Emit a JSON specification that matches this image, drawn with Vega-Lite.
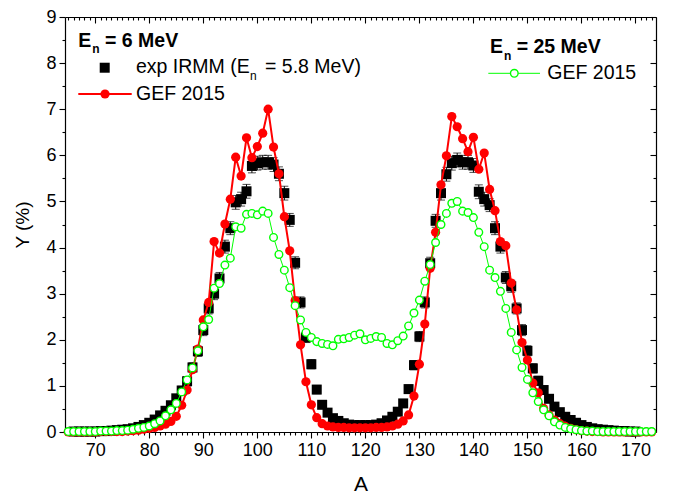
{
"$schema":"https://vega.github.io/schema/vega-lite/v6.json",
"width":591,"height":415,
"autosize":{"type":"none"},
"padding":{"left":65,"top":17,"right":25,"bottom":66},
"background":"white",
"config":{"font":"Liberation Sans","view":{"stroke":null},"axis":{"grid":false,"domainColor":"black","tickColor":"black","labelColor":"black","titleColor":"black","domainWidth":1.2,"tickWidth":1.1,"labelFont":"Liberation Sans","titleFont":"Liberation Sans","titleFontWeight":"normal"}},
"datasets":{
"one":[{}],
"exp":[{"A":66,"Y":0.01,"err":0.01},{"A":67,"Y":0.01,"err":0.01},{"A":68,"Y":0.01,"err":0.01},{"A":69,"Y":0.01,"err":0.01},{"A":70,"Y":0.01,"err":0.01},{"A":71,"Y":0.02,"err":0.01},{"A":72,"Y":0.02,"err":0.01},{"A":73,"Y":0.03,"err":0.01},{"A":74,"Y":0.04,"err":0.01},{"A":75,"Y":0.05,"err":0.02},{"A":76,"Y":0.06,"err":0.02},{"A":77,"Y":0.08,"err":0.02},{"A":78,"Y":0.11,"err":0.03},{"A":79,"Y":0.15,"err":0.03},{"A":80,"Y":0.2,"err":0.04},{"A":81,"Y":0.27,"err":0.05},{"A":82,"Y":0.36,"err":0.05},{"A":83,"Y":0.46,"err":0.06},{"A":84,"Y":0.58,"err":0.07},{"A":85,"Y":0.73,"err":0.08},{"A":86,"Y":0.9,"err":0.09},{"A":87,"Y":1.1,"err":0.1},{"A":88,"Y":1.4,"err":0.1},{"A":89,"Y":1.75,"err":0.11},{"A":90,"Y":2.21,"err":0.12},{"A":91,"Y":2.68,"err":0.12},{"A":92,"Y":3.0,"err":0.13},{"A":93,"Y":3.33,"err":0.13},{"A":94,"Y":4.02,"err":0.14},{"A":95,"Y":4.42,"err":0.14},{"A":96,"Y":4.98,"err":0.15},{"A":97,"Y":5.05,"err":0.15},{"A":98,"Y":5.22,"err":0.15},{"A":99,"Y":5.77,"err":0.15},{"A":100,"Y":5.83,"err":0.15},{"A":101,"Y":5.85,"err":0.15},{"A":102,"Y":5.85,"err":0.15},{"A":103,"Y":5.8,"err":0.15},{"A":104,"Y":5.6,"err":0.15},{"A":105,"Y":5.18,"err":0.15},{"A":106,"Y":4.6,"err":0.14},{"A":107,"Y":3.67,"err":0.13},{"A":108,"Y":2.81,"err":0.12},{"A":109,"Y":2.05,"err":0.11},{"A":110,"Y":1.47,"err":0.1},{"A":111,"Y":0.92,"err":0.09},{"A":112,"Y":0.59,"err":0.07},{"A":113,"Y":0.42,"err":0.06},{"A":114,"Y":0.3,"err":0.05},{"A":115,"Y":0.24,"err":0.04},{"A":116,"Y":0.19,"err":0.04},{"A":117,"Y":0.16,"err":0.03},{"A":118,"Y":0.15,"err":0.03},{"A":119,"Y":0.15,"err":0.03},{"A":120,"Y":0.15,"err":0.03},{"A":121,"Y":0.15,"err":0.03},{"A":122,"Y":0.16,"err":0.03},{"A":123,"Y":0.19,"err":0.04},{"A":124,"Y":0.25,"err":0.04},{"A":125,"Y":0.33,"err":0.05},{"A":126,"Y":0.44,"err":0.06},{"A":127,"Y":0.62,"err":0.07},{"A":128,"Y":0.93,"err":0.09},{"A":129,"Y":1.45,"err":0.1},{"A":130,"Y":2.07,"err":0.11},{"A":131,"Y":2.81,"err":0.12},{"A":132,"Y":3.66,"err":0.13},{"A":133,"Y":4.58,"err":0.14},{"A":134,"Y":5.18,"err":0.15},{"A":135,"Y":5.59,"err":0.15},{"A":136,"Y":5.83,"err":0.15},{"A":137,"Y":5.9,"err":0.15},{"A":138,"Y":5.85,"err":0.15},{"A":139,"Y":5.85,"err":0.15},{"A":140,"Y":5.78,"err":0.15},{"A":141,"Y":5.21,"err":0.15},{"A":142,"Y":5.05,"err":0.15},{"A":143,"Y":4.92,"err":0.14},{"A":144,"Y":4.42,"err":0.14},{"A":145,"Y":4.02,"err":0.14},{"A":146,"Y":3.35,"err":0.13},{"A":147,"Y":3.16,"err":0.13},{"A":148,"Y":2.68,"err":0.12},{"A":149,"Y":2.21,"err":0.12},{"A":150,"Y":1.76,"err":0.11},{"A":151,"Y":1.38,"err":0.1},{"A":152,"Y":1.11,"err":0.1},{"A":153,"Y":0.91,"err":0.09},{"A":154,"Y":0.72,"err":0.08},{"A":155,"Y":0.55,"err":0.07},{"A":156,"Y":0.43,"err":0.06},{"A":157,"Y":0.33,"err":0.05},{"A":158,"Y":0.26,"err":0.05},{"A":159,"Y":0.2,"err":0.04},{"A":160,"Y":0.15,"err":0.03},{"A":161,"Y":0.11,"err":0.03},{"A":162,"Y":0.08,"err":0.02},{"A":163,"Y":0.06,"err":0.02},{"A":164,"Y":0.05,"err":0.02},{"A":165,"Y":0.04,"err":0.01},{"A":166,"Y":0.03,"err":0.01},{"A":167,"Y":0.02,"err":0.01},{"A":168,"Y":0.02,"err":0.01},{"A":169,"Y":0.01,"err":0.01},{"A":170,"Y":0.01,"err":0.01}],
"g6":[{"A":65,"Y":0},{"A":66,"Y":0},{"A":67,"Y":0},{"A":68,"Y":0},{"A":69,"Y":0},{"A":70,"Y":0},{"A":71,"Y":0.01},{"A":72,"Y":0.01},{"A":73,"Y":0.01},{"A":74,"Y":0.01},{"A":75,"Y":0.01},{"A":76,"Y":0.02},{"A":77,"Y":0.03},{"A":78,"Y":0.04},{"A":79,"Y":0.06},{"A":80,"Y":0.08},{"A":81,"Y":0.1},{"A":82,"Y":0.13},{"A":83,"Y":0.17},{"A":84,"Y":0.23},{"A":85,"Y":0.34},{"A":86,"Y":0.58},{"A":87,"Y":0.91},{"A":88,"Y":1.35},{"A":89,"Y":1.8},{"A":90,"Y":2.43},{"A":91,"Y":2.81},{"A":92,"Y":4.13},{"A":93,"Y":3.88},{"A":94,"Y":4.51},{"A":95,"Y":5.05},{"A":96,"Y":5.96},{"A":97,"Y":5.55},{"A":98,"Y":6.38},{"A":99,"Y":5.95},{"A":100,"Y":6.19},{"A":101,"Y":6.48},{"A":102,"Y":7.0},{"A":103,"Y":6.18},{"A":104,"Y":5.6},{"A":105,"Y":4.67},{"A":106,"Y":3.93},{"A":107,"Y":2.85},{"A":108,"Y":1.89},{"A":109,"Y":1.09},{"A":110,"Y":0.59},{"A":111,"Y":0.31},{"A":112,"Y":0.18},{"A":113,"Y":0.13},{"A":114,"Y":0.11},{"A":115,"Y":0.1},{"A":116,"Y":0.1},{"A":117,"Y":0.09},{"A":118,"Y":0.09},{"A":119,"Y":0.09},{"A":120,"Y":0.09},{"A":121,"Y":0.09},{"A":122,"Y":0.1},{"A":123,"Y":0.1},{"A":124,"Y":0.11},{"A":125,"Y":0.13},{"A":126,"Y":0.17},{"A":127,"Y":0.24},{"A":128,"Y":0.37},{"A":129,"Y":0.78},{"A":130,"Y":1.47},{"A":131,"Y":2.34},{"A":132,"Y":3.55},{"A":133,"Y":4.33},{"A":134,"Y":5.36},{"A":135,"Y":5.99},{"A":136,"Y":6.84},{"A":137,"Y":6.62},{"A":138,"Y":6.36},{"A":139,"Y":6.08},{"A":140,"Y":6.39},{"A":141,"Y":5.7},{"A":142,"Y":6.05},{"A":143,"Y":5.26},{"A":144,"Y":4.8},{"A":145,"Y":4.13},{"A":146,"Y":4.04},{"A":147,"Y":3.23},{"A":148,"Y":2.65},{"A":149,"Y":1.94},{"A":150,"Y":1.56},{"A":151,"Y":1.06},{"A":152,"Y":0.85},{"A":153,"Y":0.51},{"A":154,"Y":0.37},{"A":155,"Y":0.26},{"A":156,"Y":0.18},{"A":157,"Y":0.12},{"A":158,"Y":0.08},{"A":159,"Y":0.05},{"A":160,"Y":0.03},{"A":161,"Y":0.02},{"A":162,"Y":0.01},{"A":163,"Y":0.01},{"A":164,"Y":0},{"A":165,"Y":0},{"A":166,"Y":0},{"A":167,"Y":0},{"A":168,"Y":0},{"A":169,"Y":0},{"A":170,"Y":0},{"A":171,"Y":0},{"A":172,"Y":0},{"A":173,"Y":0}],
"g25":[{"A":65,"Y":0.01},{"A":66,"Y":0.01},{"A":67,"Y":0.01},{"A":68,"Y":0.01},{"A":69,"Y":0.01},{"A":70,"Y":0.01},{"A":71,"Y":0.02},{"A":72,"Y":0.02},{"A":73,"Y":0.02},{"A":74,"Y":0.03},{"A":75,"Y":0.03},{"A":76,"Y":0.04},{"A":77,"Y":0.06},{"A":78,"Y":0.08},{"A":79,"Y":0.1},{"A":80,"Y":0.13},{"A":81,"Y":0.18},{"A":82,"Y":0.24},{"A":83,"Y":0.35},{"A":84,"Y":0.48},{"A":85,"Y":0.62},{"A":86,"Y":0.87},{"A":87,"Y":1.13},{"A":88,"Y":1.39},{"A":89,"Y":1.76},{"A":90,"Y":2.28},{"A":91,"Y":2.44},{"A":92,"Y":3.12},{"A":93,"Y":3.22},{"A":94,"Y":3.62},{"A":95,"Y":3.77},{"A":96,"Y":4.45},{"A":97,"Y":4.42},{"A":98,"Y":4.72},{"A":99,"Y":4.74},{"A":100,"Y":4.71},{"A":101,"Y":4.79},{"A":102,"Y":4.74},{"A":103,"Y":4.22},{"A":104,"Y":3.85},{"A":105,"Y":3.51},{"A":106,"Y":3.13},{"A":107,"Y":2.74},{"A":108,"Y":2.43},{"A":109,"Y":2.16},{"A":110,"Y":2.05},{"A":111,"Y":1.96},{"A":112,"Y":1.92},{"A":113,"Y":1.9},{"A":114,"Y":1.87},{"A":115,"Y":2.01},{"A":116,"Y":2.02},{"A":117,"Y":2.05},{"A":118,"Y":2.1},{"A":119,"Y":2.13},{"A":120,"Y":2.0},{"A":121,"Y":2.03},{"A":122,"Y":2.07},{"A":123,"Y":2.05},{"A":124,"Y":1.92},{"A":125,"Y":1.89},{"A":126,"Y":1.98},{"A":127,"Y":2.08},{"A":128,"Y":2.3},{"A":129,"Y":2.58},{"A":130,"Y":2.86},{"A":131,"Y":3.27},{"A":132,"Y":3.63},{"A":133,"Y":4.11},{"A":134,"Y":4.5},{"A":135,"Y":4.74},{"A":136,"Y":4.96},{"A":137,"Y":5.0},{"A":138,"Y":4.79},{"A":139,"Y":4.76},{"A":140,"Y":4.65},{"A":141,"Y":4.33},{"A":142,"Y":4.02},{"A":143,"Y":3.51},{"A":144,"Y":3.35},{"A":145,"Y":3.05},{"A":146,"Y":2.68},{"A":147,"Y":2.16},{"A":148,"Y":1.78},{"A":149,"Y":1.4},{"A":150,"Y":1.14},{"A":151,"Y":0.85},{"A":152,"Y":0.66},{"A":153,"Y":0.48},{"A":154,"Y":0.35},{"A":155,"Y":0.22},{"A":156,"Y":0.15},{"A":157,"Y":0.1},{"A":158,"Y":0.07},{"A":159,"Y":0.05},{"A":160,"Y":0.03},{"A":161,"Y":0.02},{"A":162,"Y":0.02},{"A":163,"Y":0.01},{"A":164,"Y":0.01},{"A":165,"Y":0.01},{"A":166,"Y":0.01},{"A":167,"Y":0.01},{"A":168,"Y":0.01},{"A":169,"Y":0.01},{"A":170,"Y":0.01},{"A":171,"Y":0.01},{"A":172,"Y":0.01},{"A":173,"Y":0.01}]
},
"resolve":{"axis":{"x":"independent","y":"independent"}},
"layer":[
{"data":{"name":"exp"},"mark":{"type":"errorbar","ticks":{"size":8,"thickness":1,"color":"black"},"rule":{"strokeWidth":1,"color":"black"}},
 "encoding":{"x":{"field":"A","type":"quantitative","scale":{"domain":[64.4,173.8],"nice":false,"zero":false},"axis":null},"y":{"field":"Y","type":"quantitative","scale":{"domain":[0,9],"nice":false,"zero":false},"axis":null},"yError":{"field":"err"}}},
{"data":{"name":"exp"},"mark":{"type":"point","shape":"square","filled":true,"color":"black","size":100,"opacity":1},
 "encoding":{"x":{"field":"A","type":"quantitative","scale":{"domain":[64.4,173.8],"nice":false,"zero":false},"axis":{"orient":"bottom","values":[70,80,90,100,110,120,130,140,150,160,170],"tickSize":6,"labelFontSize":18,"labelPadding":3,"title":"A","titleFontSize":21,"titlePadding":14,"domain":true}},
 "y":{"field":"Y","type":"quantitative","scale":{"domain":[0,9],"nice":false,"zero":false},"axis":{"orient":"left","values":[0,1,2,3,4,5,6,7,8,9],"tickSize":6,"labelFontSize":18,"labelPadding":3,"title":"Y (%)","titleFontSize":19,"titlePadding":13,"domain":true}}}},
{"data":{"name":"g6"},"mark":{"type":"line","color":"#ff0000","strokeWidth":2},
 "encoding":{"x":{"field":"A","type":"quantitative","scale":{"domain":[64.4,173.8],"nice":false,"zero":false},"axis":{"orient":"bottom","values":[65,66,67,68,69,71,72,73,74,75,76,77,78,79,81,82,83,84,85,86,87,88,89,91,92,93,94,95,96,97,98,99,101,102,103,104,105,106,107,108,109,111,112,113,114,115,116,117,118,119,121,122,123,124,125,126,127,128,129,131,132,133,134,135,136,137,138,139,141,142,143,144,145,146,147,148,149,151,152,153,154,155,156,157,158,159,161,162,163,164,165,166,167,168,169,171,172,173],"tickSize":3,"labels":false,"domain":false,"title":null}},
 "y":{"field":"Y","type":"quantitative","scale":{"domain":[0,9],"nice":false,"zero":false},"axis":{"orient":"left","values":[0.5,1.5,2.5,3.5,4.5,5.5,6.5,7.5,8.5],"tickSize":3,"labels":false,"domain":false,"title":null}}}},
{"data":{"name":"g6"},"mark":{"type":"point","shape":"circle","filled":true,"color":"#ff0000","size":85,"opacity":1},
 "encoding":{"x":{"field":"A","type":"quantitative","scale":{"domain":[64.4,173.8],"nice":false,"zero":false},"axis":{"orient":"top","values":[70,80,90,100,110,120,130,140,150,160,170],"tickSize":-6,"labels":false,"domain":true,"title":null}},
 "y":{"field":"Y","type":"quantitative","scale":{"domain":[0,9],"nice":false,"zero":false},"axis":{"orient":"right","values":[0,1,2,3,4,5,6,7,8,9],"tickSize":-6,"labels":false,"domain":true,"title":null}}}},
{"data":{"name":"g25"},"mark":{"type":"line","color":"#00ff00","strokeWidth":1},
 "encoding":{"x":{"field":"A","type":"quantitative","scale":{"domain":[64.4,173.8],"nice":false,"zero":false},"axis":{"orient":"top","values":[65,66,67,68,69,71,72,73,74,75,76,77,78,79,81,82,83,84,85,86,87,88,89,91,92,93,94,95,96,97,98,99,101,102,103,104,105,106,107,108,109,111,112,113,114,115,116,117,118,119,121,122,123,124,125,126,127,128,129,131,132,133,134,135,136,137,138,139,141,142,143,144,145,146,147,148,149,151,152,153,154,155,156,157,158,159,161,162,163,164,165,166,167,168,169,171,172,173],"tickSize":-3,"labels":false,"domain":false,"title":null}},
 "y":{"field":"Y","type":"quantitative","scale":{"domain":[0,9],"nice":false,"zero":false},"axis":{"orient":"right","values":[0.5,1.5,2.5,3.5,4.5,5.5,6.5,7.5,8.5],"tickSize":-3,"labels":false,"domain":false,"title":null}}}},
{"data":{"name":"g25"},"mark":{"type":"point","shape":"circle","filled":true,"fill":"white","stroke":"#00ff00","strokeWidth":1.4,"size":58,"opacity":1},
 "encoding":{"x":{"field":"A","type":"quantitative","scale":{"domain":[64.4,173.8],"nice":false,"zero":false},"axis":null},"y":{"field":"Y","type":"quantitative","scale":{"domain":[0,9],"nice":false,"zero":false},"axis":null}}},
{"data":{"name":"one"},"mark":{"type":"text","text":"E","align":"left","baseline":"alphabetic","fontSize":19.5,"fontWeight":"bold","color":"black"},
 "encoding":{"x":{"datum":66.86,"type":"quantitative","scale":{"domain":[64.4,173.8],"nice":false,"zero":false},"axis":null},"y":{"datum":8.356,"type":"quantitative","scale":{"domain":[0,9],"nice":false,"zero":false},"axis":null}}},
{"data":{"name":"one"},"mark":{"type":"text","text":"n","align":"left","baseline":"alphabetic","fontSize":12,"fontWeight":"bold","color":"black","dx":14,"dy":6.5},
 "encoding":{"x":{"datum":66.86,"type":"quantitative","scale":{"domain":[64.4,173.8],"nice":false,"zero":false},"axis":null},"y":{"datum":8.356,"type":"quantitative","scale":{"domain":[0,9],"nice":false,"zero":false},"axis":null}}},
{"data":{"name":"one"},"mark":{"type":"text","text":"= 6 MeV","align":"left","baseline":"alphabetic","fontSize":19.5,"fontWeight":"bold","color":"black","dx":26.7},
 "encoding":{"x":{"datum":66.86,"type":"quantitative","scale":{"domain":[64.4,173.8],"nice":false,"zero":false},"axis":null},"y":{"datum":8.356,"type":"quantitative","scale":{"domain":[0,9],"nice":false,"zero":false},"axis":null}}},
{"data":{"name":"one"},"mark":{"type":"point","shape":"square","filled":true,"color":"black","size":100,"opacity":1},
 "encoding":{"x":{"datum":71.75,"type":"quantitative","scale":{"domain":[64.4,173.8],"nice":false,"zero":false},"axis":null},"y":{"datum":7.9,"type":"quantitative","scale":{"domain":[0,9],"nice":false,"zero":false},"axis":null}}},
{"data":{"name":"one"},"mark":{"type":"text","text":"exp IRMM (E","align":"left","baseline":"alphabetic","fontSize":19.5,"color":"black"},
 "encoding":{"x":{"datum":77.54,"type":"quantitative","scale":{"domain":[64.4,173.8],"nice":false,"zero":false},"axis":null},"y":{"datum":7.779,"type":"quantitative","scale":{"domain":[0,9],"nice":false,"zero":false},"axis":null}}},
{"data":{"name":"one"},"mark":{"type":"text","text":"n","align":"left","baseline":"alphabetic","fontSize":12,"color":"black","dx":114,"dy":7},
 "encoding":{"x":{"datum":77.54,"type":"quantitative","scale":{"domain":[64.4,173.8],"nice":false,"zero":false},"axis":null},"y":{"datum":7.779,"type":"quantitative","scale":{"domain":[0,9],"nice":false,"zero":false},"axis":null}}},
{"data":{"name":"one"},"mark":{"type":"text","text":"= 5.8 MeV)","align":"left","baseline":"alphabetic","fontSize":19.5,"color":"black","dx":129},
 "encoding":{"x":{"datum":77.54,"type":"quantitative","scale":{"domain":[64.4,173.8],"nice":false,"zero":false},"axis":null},"y":{"datum":7.779,"type":"quantitative","scale":{"domain":[0,9],"nice":false,"zero":false},"axis":null}}},
{"data":{"name":"one"},"mark":{"type":"rule","color":"#ff0000","strokeWidth":2},
 "encoding":{"x":{"datum":66.86,"type":"quantitative","scale":{"domain":[64.4,173.8],"nice":false,"zero":false},"axis":null},"x2":{"datum":76.75},"y":{"datum":7.33,"type":"quantitative","scale":{"domain":[0,9],"nice":false,"zero":false},"axis":null}}},
{"data":{"name":"one"},"mark":{"type":"point","shape":"circle","filled":true,"color":"#ff0000","size":85,"opacity":1},
 "encoding":{"x":{"datum":71.81,"type":"quantitative","scale":{"domain":[64.4,173.8],"nice":false,"zero":false},"axis":null},"y":{"datum":7.33,"type":"quantitative","scale":{"domain":[0,9],"nice":false,"zero":false},"axis":null}}},
{"data":{"name":"one"},"mark":{"type":"text","text":"GEF 2015","align":"left","baseline":"alphabetic","fontSize":19.5,"color":"black"},
 "encoding":{"x":{"datum":77.54,"type":"quantitative","scale":{"domain":[64.4,173.8],"nice":false,"zero":false},"axis":null},"y":{"datum":7.2,"type":"quantitative","scale":{"domain":[0,9],"nice":false,"zero":false},"axis":null}}},
{"data":{"name":"one"},"mark":{"type":"text","text":"E","align":"left","baseline":"alphabetic","fontSize":19.5,"fontWeight":"bold","color":"black"},
 "encoding":{"x":{"datum":143.07,"type":"quantitative","scale":{"domain":[64.4,173.8],"nice":false,"zero":false},"axis":null},"y":{"datum":8.213,"type":"quantitative","scale":{"domain":[0,9],"nice":false,"zero":false},"axis":null}}},
{"data":{"name":"one"},"mark":{"type":"text","text":"n","align":"left","baseline":"alphabetic","fontSize":12,"fontWeight":"bold","color":"black","dx":14,"dy":6.5},
 "encoding":{"x":{"datum":143.07,"type":"quantitative","scale":{"domain":[64.4,173.8],"nice":false,"zero":false},"axis":null},"y":{"datum":8.213,"type":"quantitative","scale":{"domain":[0,9],"nice":false,"zero":false},"axis":null}}},
{"data":{"name":"one"},"mark":{"type":"text","text":"= 25 MeV","align":"left","baseline":"alphabetic","fontSize":19.5,"fontWeight":"bold","color":"black","dx":26.7},
 "encoding":{"x":{"datum":143.07,"type":"quantitative","scale":{"domain":[64.4,173.8],"nice":false,"zero":false},"axis":null},"y":{"datum":8.213,"type":"quantitative","scale":{"domain":[0,9],"nice":false,"zero":false},"axis":null}}},
{"data":{"name":"one"},"mark":{"type":"rule","color":"#00ff00","strokeWidth":1},
 "encoding":{"x":{"datum":142.76,"type":"quantitative","scale":{"domain":[64.4,173.8],"nice":false,"zero":false},"axis":null},"x2":{"datum":152.33},"y":{"datum":7.779,"type":"quantitative","scale":{"domain":[0,9],"nice":false,"zero":false},"axis":null}}},
{"data":{"name":"one"},"mark":{"type":"point","shape":"circle","filled":true,"fill":"white","stroke":"#00ff00","strokeWidth":1.4,"size":58,"opacity":1},
 "encoding":{"x":{"datum":147.57,"type":"quantitative","scale":{"domain":[64.4,173.8],"nice":false,"zero":false},"axis":null},"y":{"datum":7.779,"type":"quantitative","scale":{"domain":[0,9],"nice":false,"zero":false},"axis":null}}},
{"data":{"name":"one"},"mark":{"type":"text","text":"GEF 2015","align":"left","baseline":"alphabetic","fontSize":19.5,"color":"black"},
 "encoding":{"x":{"datum":153.68,"type":"quantitative","scale":{"domain":[64.4,173.8],"nice":false,"zero":false},"axis":null},"y":{"datum":7.649,"type":"quantitative","scale":{"domain":[0,9],"nice":false,"zero":false},"axis":null}}}
]
}
